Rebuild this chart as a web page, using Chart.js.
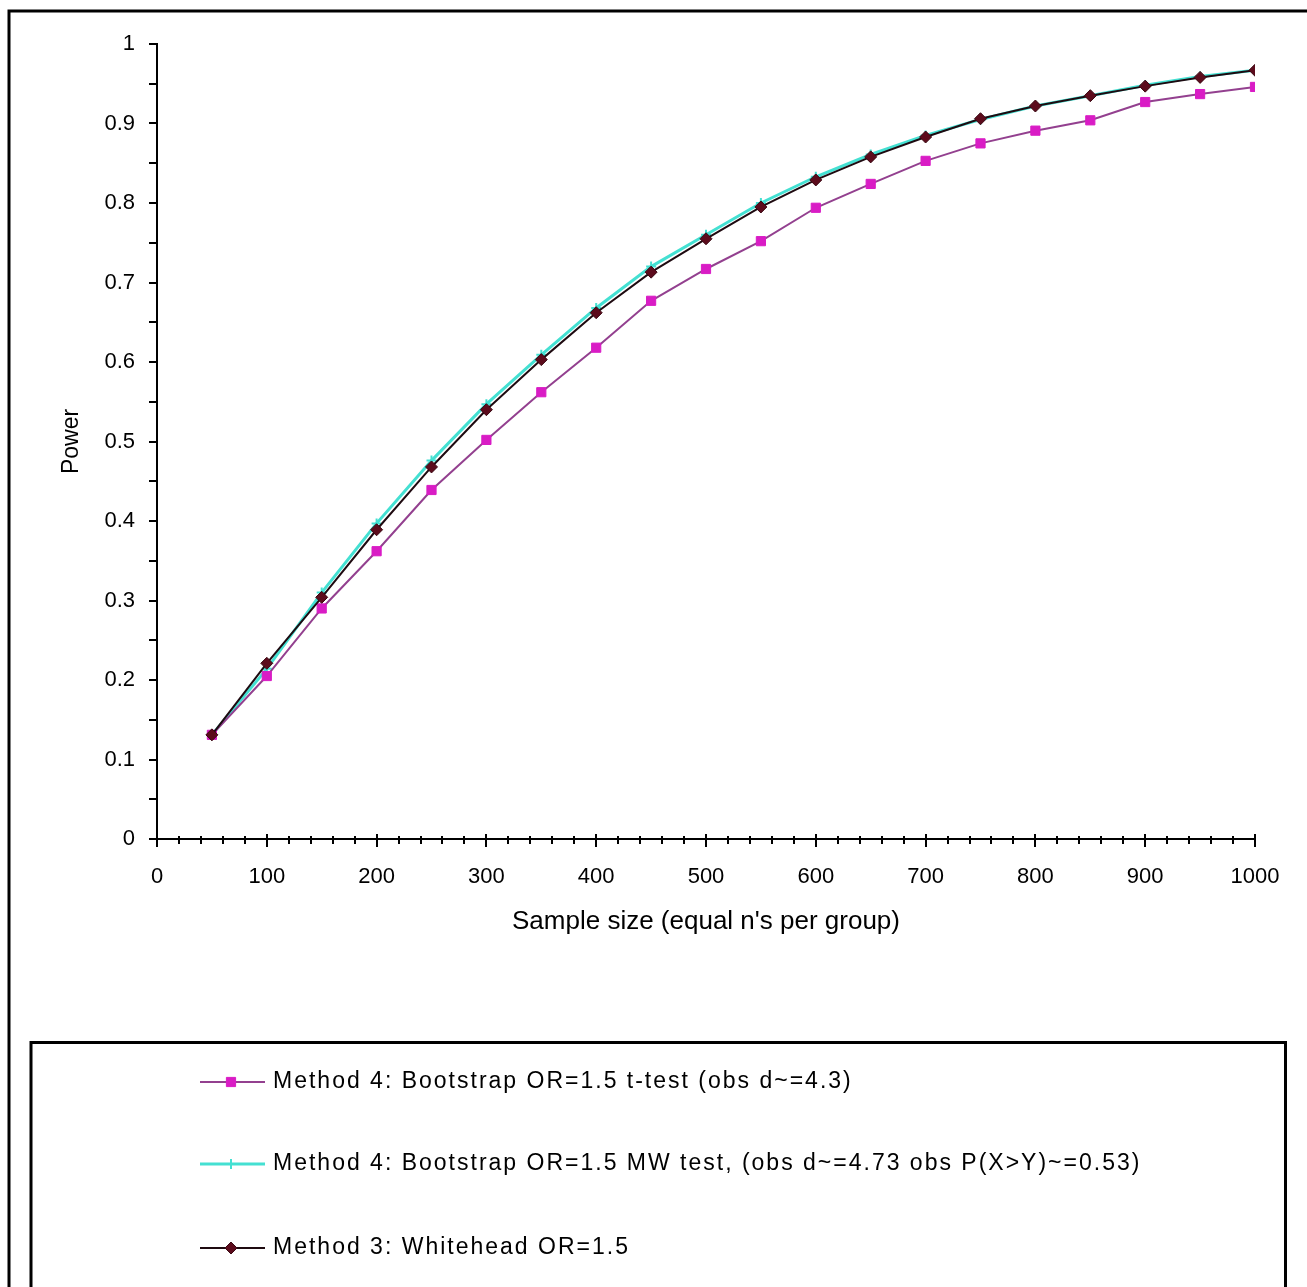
<!DOCTYPE html>
<html>
<head>
<meta charset="utf-8">
<script src="https://cdn.jsdelivr.net/npm/chart.js@4.4.1/dist/chart.umd.min.js"></script>
<style>
    html, body { margin: 0; padding: 0; background: #fff; }
</style>
</head>
<body>
<canvas id="graficoPower" width="1307" height="1287"></canvas>
<script>
// sample size (equal n's per group)
const sampleSizes = [50, 100, 150, 200, 250, 300, 350, 400, 450, 500, 550, 600, 650, 700, 750, 800, 850, 900, 950, 1000];

// power
const bootTTest = [0.131, 0.205, 0.290, 0.362, 0.439, 0.502, 0.562, 0.618, 0.677, 0.717, 0.752, 0.794, 0.824, 0.853, 0.875, 0.891, 0.904, 0.927, 0.937, 0.946];
const bootMWTest = [0.131, 0.214, 0.310, 0.397, 0.476, 0.547, 0.609, 0.668, 0.720, 0.760, 0.800, 0.833, 0.861, 0.885, 0.905, 0.922, 0.935, 0.948, 0.959, 0.967];
const whitehead = [0.131, 0.221, 0.304, 0.389, 0.468, 0.540, 0.603, 0.662, 0.713, 0.755, 0.795, 0.829, 0.858, 0.883, 0.906, 0.922, 0.935, 0.947, 0.958, 0.967];

const seriesLabels = [
    "Method 4: Bootstrap OR=1.5 t-test (obs d~=4.3)",
    "Method 4: Bootstrap OR=1.5 MW test, (obs d~=4.73 obs P(X>Y)~=0.53)",
    "Method 3: Whitehead OR=1.5",
];

const xMinorStep = 20;
const FONT = "'Liberation Sans', Arial, sans-serif";

function points(values) {
    return sampleSizes.map((x, i) => ({ x: x, y: values[i] }));
}

// frame, legend box and the small x ticks
const decorations = {
    id: "decorations",
    afterDraw(chart) {
        const ctx = chart.ctx;
        ctx.save();
        ctx.strokeStyle = "#000";
        ctx.lineWidth = 3;
        // outer frame
        ctx.beginPath();
        ctx.moveTo(9, 1300);
        ctx.lineTo(9, 11);
        ctx.lineTo(1310, 11);
        ctx.stroke();
        // legend box
        ctx.beginPath();
        ctx.moveTo(31, 1300);
        ctx.lineTo(31, 1042.5);
        ctx.lineTo(1285.5, 1042.5);
        ctx.lineTo(1285.5, 1300);
        ctx.stroke();

        // x ticks crossing the axis
        const xs = chart.scales.x;
        const yb = chart.chartArea.bottom;
        ctx.lineWidth = 2;
        ctx.beginPath();
        for (let v = xs.min; v <= xs.max; v += xMinorStep) {
            const px = Math.round(xs.getPixelForValue(v));
            const major = v % 100 === 0;
            ctx.moveTo(px, yb - (major ? 5 : 3));
            ctx.lineTo(px, yb + (major ? 8 : 5));
        }
        ctx.stroke();

        // legend entries, in dataset order
        const rows = [1082, 1164, 1248];
        chart.data.datasets.forEach((ds, i) => {
            const y = rows[i];
            ctx.strokeStyle = ds.borderColor;
            ctx.lineWidth = ds.borderWidth;
            ctx.beginPath();
            ctx.moveTo(200, y);
            ctx.lineTo(265, y);
            ctx.stroke();
            ctx.fillStyle = ds.pointBackgroundColor;
            ctx.strokeStyle = ds.pointBorderColor;
            ctx.lineWidth = ds.pointBorderWidth;
            Chart.helpers.drawPoint(ctx, {
                pointStyle: ds.pointStyle,
                radius: ds.pointRadius,
                borderWidth: ds.pointBorderWidth,
                rotation: 0,
            }, 231, y);

            ctx.fillStyle = "#000";
            ctx.font = "23px " + FONT;
            ctx.letterSpacing = "2px";
            ctx.textBaseline = "middle";
            ctx.textAlign = "left";
            ctx.fillText(ds.label, 273, y);
        });
        ctx.restore();
    },
};

const ctx = document.getElementById("graficoPower").getContext("2d");

new Chart(ctx, {
    type: "line",
    data: {
        datasets: [
            {
                label: seriesLabels[0],
                data: points(bootTTest),
                borderColor: "#93408f",
                borderWidth: 2,
                pointStyle: "rect",
                pointRadius: 6.5,
                pointBackgroundColor: "#d91cc5",
                pointBorderColor: "#d91cc5",
                pointBorderWidth: 1,
                order: 1,
            },
            {
                label: seriesLabels[1],
                data: points(bootMWTest),
                borderColor: "#44e0d2",
                borderWidth: 3,
                pointStyle: "cross",
                pointRadius: 5,
                pointBackgroundColor: "#44e0d2",
                pointBorderColor: "#44e0d2",
                pointBorderWidth: 2,
                order: 2,
            },
            {
                label: seriesLabels[2],
                data: points(whitehead),
                borderColor: "#1e0a10",
                borderWidth: 2,
                pointStyle: "rectRot",
                pointRadius: 6,
                pointBackgroundColor: "#5c0b1c",
                pointBorderColor: "#3a0812",
                pointBorderWidth: 1,
                order: 0,
            },
        ],
    },
    options: {
        responsive: false,
        animation: false,
        layout: {
            padding: { left: 0, top: 44, right: 52, bottom: 338 },
        },
        plugins: {
            legend: { display: false },
            tooltip: { enabled: false },
        },
        scales: {
            x: {
                type: "linear",
                min: 0,
                max: 1000,
                ticks: {
                    stepSize: 100,
                    autoSkip: false,
                    maxRotation: 0,
                    padding: 25,
                    color: "#000",
                    font: { family: FONT, size: 22 },
                    callback: function (value) {
                        return String(value);
                    },
                },
                grid: { display: false, drawTicks: false },
                border: { display: true, color: "#000", width: 2 },
                title: {
                    display: true,
                    text: "Sample size (equal n's per group)",
                    color: "#000",
                    font: { family: FONT, size: 26 },
                    padding: { top: 0, bottom: 12 },
                },
                afterFit(scale) {
                    scale.height = 110;
                },
            },
            y: {
                min: 0,
                max: 1,
                ticks: {
                    stepSize: 0.05,
                    autoSkip: false,
                    padding: 14,
                    color: "#000",
                    font: { family: FONT, size: 22 },
                    callback: function (value) {
                        const t = Math.round(value * 100);
                        return t % 10 === 0 ? String(t / 100) : "";
                    },
                },
                grid: {
                    drawOnChartArea: false,
                    drawTicks: true,
                    tickLength: 8,
                    color: "#000",
                    lineWidth: 2,
                },
                border: { display: true, color: "#000", width: 2 },
                title: {
                    display: true,
                    text: "Power",
                    color: "#000",
                    font: { family: FONT, size: 23 },
                    padding: { top: 58, bottom: 0 },
                },
                afterFit(scale) {
                    scale.width = 157;
                },
            },
        },
    },
    plugins: [decorations],
});
</script>
</body>
</html>
